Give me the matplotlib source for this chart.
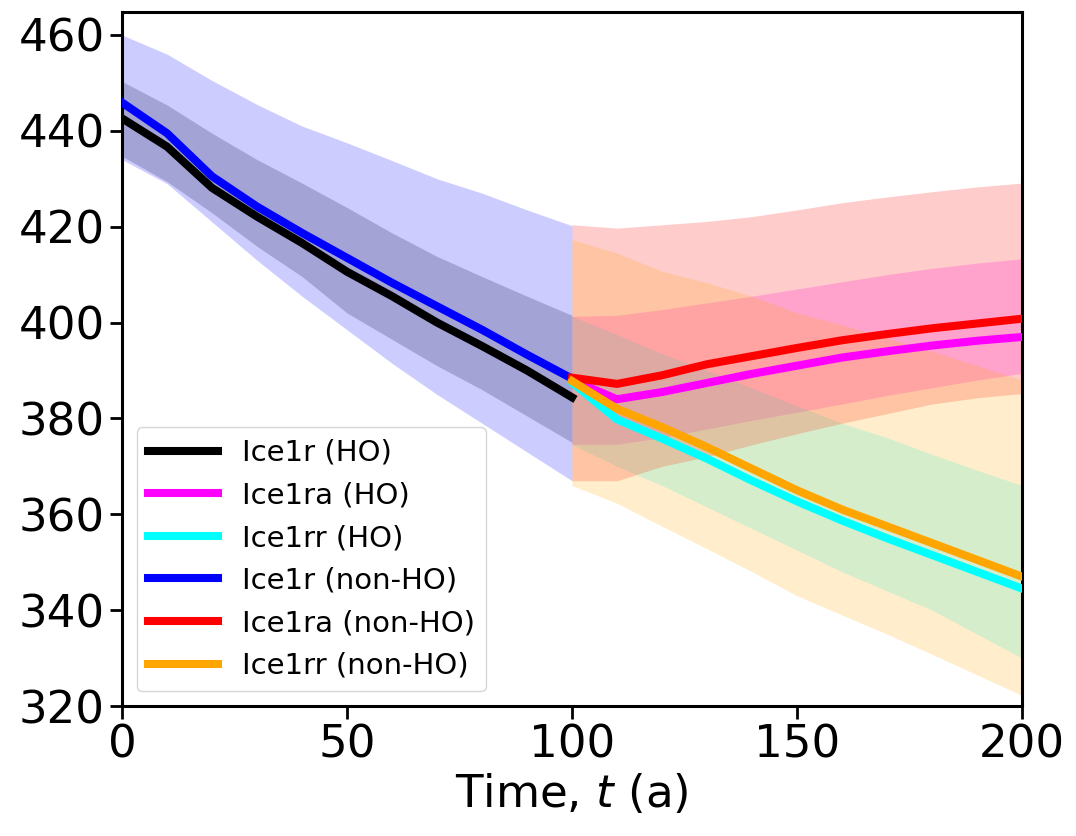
import numpy as np
import matplotlib
matplotlib.use('Agg')
from matplotlib import pyplot as plt

# time axes
t_spin = [0, 10, 20, 30, 40, 50, 60, 70, 80, 90, 100]
t_run = [100, 110, 120, 130, 140, 150, 160, 170, 180, 190, 200]

# Ice1r, 0-100 a
ice1r_ho = [442.6, 436.7, 428.1, 422.1, 416.6, 410.6, 405.5, 400.0, 395.1, 390.0, 384.4]
ice1r_ho_hi = [450.3, 445.4, 439.5, 434.0, 429.1, 424.0, 418.7, 413.8, 409.6, 405.5, 401.5]
ice1r_ho_lo = [434.7, 429.4, 422.9, 415.9, 409.6, 402.0, 396.5, 391.0, 386.0, 380.5, 375.0]
ice1r_non = [445.9, 439.5, 430.5, 424.2, 418.7, 413.5, 408.3, 403.4, 398.5, 393.3, 388.3]
ice1r_non_hi = [460.0, 456.0, 450.5, 445.5, 441.0, 437.5, 433.8, 430.0, 427.0, 423.5, 420.2]
ice1r_non_lo = [434.0, 429.0, 421.0, 413.0, 405.5, 398.5, 391.5, 385.0, 379.0, 373.0, 367.0]

# Ice1ra / Ice1rr, 100-200 a
ice1ra_ho = [388.0, 384.0, 385.5, 387.4, 389.3, 391.0, 392.7, 394.0, 395.2, 396.2, 397.0]
ice1ra_ho_hi = [401.3, 401.5, 402.7, 404.1, 405.5, 407.0, 408.5, 410.0, 411.3, 412.4, 413.3]
ice1ra_ho_lo = [374.6, 374.6, 376.0, 377.8, 379.6, 381.3, 383.0, 384.8, 386.4, 388.0, 389.4]
ice1rr_ho = [387.5, 379.8, 375.8, 371.6, 367.0, 362.7, 358.7, 355.0, 351.5, 348.0, 344.5]
ice1rr_ho_hi = [401.3, 397.5, 393.5, 390.0, 386.3, 382.6, 379.0, 376.0, 372.5, 369.2, 366.0]
ice1rr_ho_lo = [374.6, 370.0, 366.0, 361.5, 357.0, 352.5, 348.0, 344.0, 340.0, 335.0, 330.0]
ice1ra_non = [388.5, 387.2, 389.0, 391.3, 393.0, 394.7, 396.3, 397.6, 398.8, 399.8, 400.8]
ice1ra_non_hi = [420.4, 419.7, 420.4, 421.1, 422.1, 423.5, 425.0, 426.2, 427.3, 428.3, 429.1]
ice1ra_non_lo = [367.0, 367.0, 370.0, 372.0, 374.5, 376.8, 379.0, 381.0, 383.0, 384.3, 385.2]
ice1rr_non = [387.8, 382.0, 378.2, 374.0, 369.5, 365.0, 361.0, 357.5, 354.0, 350.5, 347.0]
ice1rr_non_hi = [417.3, 414.5, 410.7, 408.3, 405.5, 402.0, 399.5, 396.8, 394.0, 391.0, 388.0]
ice1rr_non_lo = [366.0, 362.3, 357.5, 352.8, 348.0, 343.0, 339.0, 335.0, 330.8, 326.5, 322.2]

series = [
    (t_spin, ice1r_ho, ice1r_ho_lo, ice1r_ho_hi, 'black', 'Ice1r (HO)'),
    (t_run, ice1ra_ho, ice1ra_ho_lo, ice1ra_ho_hi, 'magenta', 'Ice1ra (HO)'),
    (t_run, ice1rr_ho, ice1rr_ho_lo, ice1rr_ho_hi, 'cyan', 'Ice1rr (HO)'),
    (t_spin, ice1r_non, ice1r_non_lo, ice1r_non_hi, 'blue', 'Ice1r (non-HO)'),
    (t_run, ice1ra_non, ice1ra_non_lo, ice1ra_non_hi, 'red', 'Ice1ra (non-HO)'),
    (t_run, ice1rr_non, ice1rr_non_lo, ice1rr_non_hi, 'orange', 'Ice1rr (non-HO)'),
]

fig = plt.figure(figsize=(10.76, 8.36), dpi=100)
ax = fig.add_axes([0.1134, 0.1555, 0.8364, 0.8302])

for t, y, lo, hi, c, lab in series:
    ax.fill_between(t, lo, hi, color=c, alpha=0.2, lw=0, zorder=2)
for t, y, lo, hi, c, lab in series:
    ax.plot(t, y, color=c, lw=5.8, label=lab, zorder=3)

ax.set_xlim(0, 200)
ax.set_ylim(320, 464.8)
ax.set_xticks([0, 50, 100, 150, 200])
ax.set_yticks(np.arange(320, 461, 20))
ax.tick_params(labelsize=32.5, width=2, length=9)
for s in ax.spines.values():
    s.set_linewidth(2.2)
ax.set_xlabel('Time, $t$ (a)', fontsize=32.5, labelpad=4)
ax.legend(loc='lower left', fontsize=21, handlelength=2.4)

fig.savefig('out.png', dpi=100)
